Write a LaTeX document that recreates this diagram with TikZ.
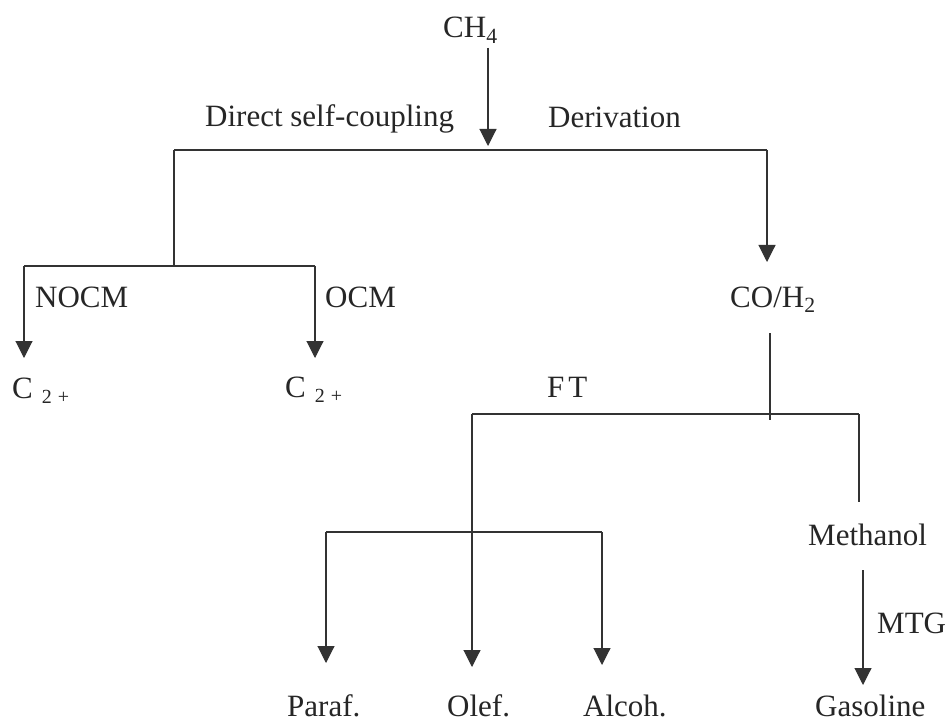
\documentclass[tikz,border=0pt]{standalone}
\usepackage{fontspec}
\setmainfont{Liberation Serif}
\usetikzlibrary{arrows.meta}
\newcommand{\ctwoplus}{C\hspace{9pt}{\fontsize{20}{20}\selectfont\raisebox{-5pt}{2\hspace{6pt}+}}}
\begin{document}
\begin{tikzpicture}[x=1pt,y=-1pt,
  lbl/.style={anchor=base west, inner sep=0pt, font=\fontsize{31}{36}\selectfont, text=black!85},
  ln/.style={draw=black!80, line width=1.1pt},
  arr/.style={ln, -{Triangle[width=17pt,length=17pt]}}]
\useasboundingbox[fill=white] (0,0) rectangle (947,727);

% texts
\node[lbl] (ch4) at (443,38) {CH\textsubscript{4}};
\node[lbl] (dsc) at (205,127) {Direct self-coupling};
\node[lbl] (der) at (548,128) {Derivation};
\node[lbl] (nocm) at (35,307) {NOCM};
\node[lbl] (ocm) at (325,307) {OCM};
\node[lbl] (c2a) at (12,398) {\ctwoplus};
\node[lbl] (c2b) at (285,397) {\ctwoplus};
\node[lbl] (coh) at (730,307) {CO/H\textsubscript{2}};
\node[lbl] (ft) at (547,397) {F\hspace{4pt}T};
\node[lbl] (meth) at (808,545) {Methanol};
\node[lbl] (mtg) at (877,633) {MTG};
\node[lbl] (paraf) at (287,716) {Paraf.};
\node[lbl] (olef) at (447,716) {Olef.};
\node[lbl] (alcoh) at (583,716) {Alcoh.};
\node[lbl] (gas) at (815,716) {Gasoline};

% junction coordinates
\coordinate (ch4s) at (488,48);
\coordinate (j0) at (488,146);
\coordinate (jl) at (174,150);
\coordinate (jr) at (767,150);
\coordinate (jl2) at (174,266);
\coordinate (nl) at (24,266);
\coordinate (nr) at (315,266);
\coordinate (nlt) at (24,358);
\coordinate (nrt) at (315,358);
\coordinate (jrt) at (767,262);
\coordinate (cohs) at (770,333);
\coordinate (cohj) at (770,420);
\coordinate (fl) at (472,414);
\coordinate (fr) at (859,414);
\coordinate (frb) at (859,502);
\coordinate (olt) at (472,667);
\coordinate (pl) at (326,532);
\coordinate (pr) at (602,532);
\coordinate (plt) at (326,663);
\coordinate (prt) at (602,665);
\coordinate (ms) at (863,570);
\coordinate (mt) at (863,685);

% connectors
\draw[arr] (ch4s) -- (j0);
\draw[ln] (jl) -- (jr);
\draw[ln] (jl) -- (jl2);
\draw[ln] (nl) -- (nr);
\draw[arr] (nl) -- (nlt);
\draw[arr] (nr) -- (nrt);
\draw[arr] (jr) -- (jrt);
\draw[ln] (cohs) -- (cohj);
\draw[ln] (fl) -- (fr);
\draw[ln] (fr) -- (frb);
\draw[arr] (fl) -- (olt);
\draw[ln] (pl) -- (pr);
\draw[arr] (pl) -- (plt);
\draw[arr] (pr) -- (prt);
\draw[arr] (ms) -- (mt);
\end{tikzpicture}
\end{document}
